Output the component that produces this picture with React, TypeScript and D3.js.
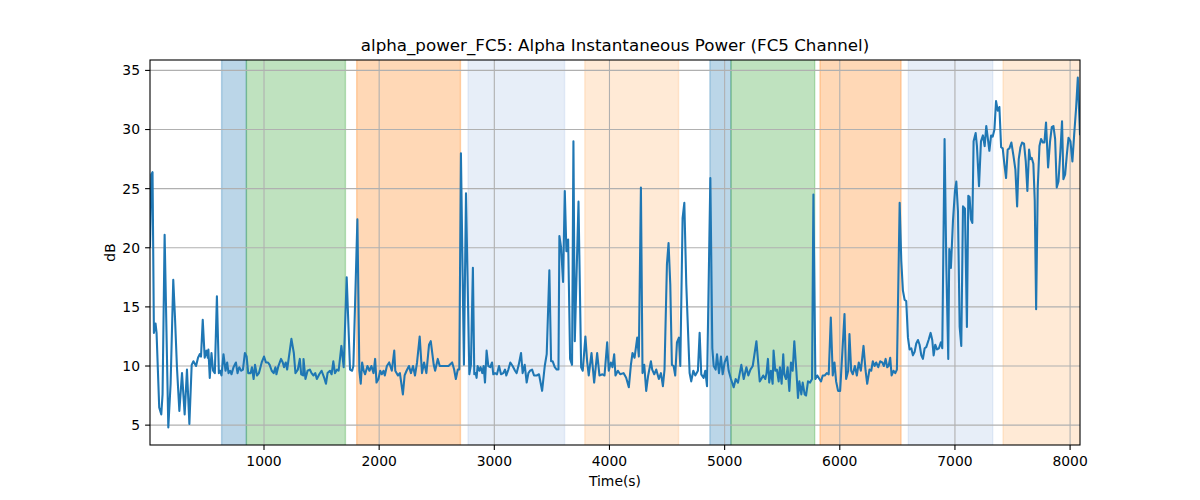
import React from 'react';
import * as d3 from 'd3';

type P = [number, number];

const seg1: P[] = [[10,20.1],[22,26.2],[32,26.4],[44,12.8],[58,13.6],[67,12.8],[90,6.5],[108,5.9],[119,7.6],[137,21.1],[169,4.8],[189,8.5],[212,17.3],[227,14.1],[244,9.9],[265,6.2],[288,9.4],[311,5.9],[331,9.7],[352,5.1],[372,10.1],[387,10.4],[410,10.0],[427,10.7],[442,11.0],[453,10.8],[468,13.9],[485,10.7],[500,11.3],[512,10.7],[517,11.4],[529,9.0],[544,11.1],[558,9.6],[573,9.4],[591,15.9],[608,9.4],[619,9.6],[631,9.2],[648,11.0],[666,9.6],[680,10.3],[692,9.4],[706,9.6],[718,9.3],[735,9.9],[756,10.3],[770,9.4],[785,9.9],[802,9.6],[817,9.7],[834,11.1],[849,10.8],[863,9.4],[884,9.4],[895,9.9],[910,8.9],[922,10.1],[939,9.2],[956,9.4],[980,10.3],[1000,10.8],[1017,10.3],[1035,10.3],[1049,10.1],[1067,9.6],[1084,9.4],[1099,9.9],[1108,9.3],[1125,10.0],[1148,10.6],[1163,10.3],[1174,9.9],[1189,10.3],[1201,9.7],[1238,12.3],[1259,11.1],[1273,9.4],[1294,9.7],[1311,10.6],[1323,9.3],[1340,9.2],[1343,10.6],[1360,8.9],[1378,9.6],[1398,9.7],[1413,9.4],[1430,9.2],[1445,9.4],[1459,8.9],[1480,9.3],[1500,9.6],[1523,9.0],[1538,8.5],[1552,9.4],[1573,9.6],[1587,9.3],[1602,10.4],[1616,9.4],[1634,9.7],[1648,9.6],[1672,11.7],[1692,9.9],[1718,17.5],[1747,9.7],[1765,9.6],[1776,10.0],[1811,22.4],[1828,9.6],[1840,8.5],[1852,10.3],[1866,9.6],[1878,9.3],[1898,10.0],[1916,9.6],[1933,10.0],[1951,9.4],[1965,10.6],[1977,8.6],[1994,8.9],[2009,9.6],[2023,9.3],[2038,9.6],[2049,9.2],[2067,10.0],[2087,10.3],[2110,9.6],[2131,11.3],[2140,9.6],[2163,9.2],[2180,9.4],[2206,7.6],[2221,9.2],[2238,9.6],[2259,10.0],[2276,9.4],[2294,10.0],[2311,9.2],[2329,10.3],[2352,12.5],[2372,9.4],[2390,10.3],[2410,9.4],[2433,11.8],[2448,12.1],[2474,10.1],[2486,9.6],[2509,10.6],[2526,10.0],[2547,10.0],[2576,10.0],[2602,10.0],[2634,10.3],[2651,9.7],[2666,8.9],[2683,9.7]];

const seg2: P[] = [[2696,9.7],[2710,28.0],[2736,10.1],[2754,24.6],[2783,9.3],[2797,10.1],[2814,18.3],[2826,9.3],[2838,9.4],[2846,9.0],[2855,10.0],[2870,9.6],[2881,9.9],[2896,9.4],[2907,10.0],[2919,8.6],[2933,11.3],[2948,10.0],[2965,9.9],[2980,10.3],[2991,9.3],[3006,9.4],[3023,9.3],[3041,10.0],[3058,9.3],[3078,9.4],[3093,9.7],[3104,9.2],[3122,9.7],[3139,10.3],[3159,10.0],[3180,9.6],[3194,9.4],[3212,10.1],[3232,11.1],[3246,9.4],[3264,10.1],[3281,8.6],[3296,9.4],[3310,9.6],[3328,9.7],[3345,9.2],[3368,9.2],[3388,9.3],[3415,7.9],[3438,10.0],[3455,11.0],[3478,18.1],[3493,10.4],[3507,10.4],[3525,9.9],[3542,9.7],[3557,9.7],[3565,21.0],[3580,20.0],[3597,17.1],[3612,24.8],[3626,19.7],[3641,20.7],[3658,10.6],[3675,10.1],[3687,29.0],[3699,12.1],[3731,23.9],[3754,9.9],[3768,9.6],[3791,12.5],[3806,10.4],[3820,9.2],[3844,11.1],[3867,8.6],[3893,11.1],[3913,9.2],[3939,9.3],[3957,9.2],[3980,12.0],[3994,9.6],[4012,10.3],[4026,9.9],[4041,11.0],[4052,9.2],[4073,9.6],[4093,9.3],[4122,9.4],[4145,9.0],[4168,8.2],[4186,10.1],[4200,11.1],[4218,10.7],[4241,12.4],[4255,10.8],[4273,25.1],[4287,9.4],[4302,10.1],[4319,7.9],[4336,9.2],[4360,10.4],[4371,9.7],[4389,9.3],[4406,9.7],[4429,8.9],[4447,9.4],[4464,8.3],[4478,9.7],[4499,18.6],[4513,20.4],[4528,16.9],[4542,10.1],[4557,10.0],[4571,9.2],[4586,12.0],[4603,12.4],[4615,10.0],[4635,22.5],[4650,23.8],[4667,16.9],[4696,9.4],[4710,8.7],[4728,9.6],[4745,9.2],[4768,9.6],[4783,12.8],[4797,9.3],[4818,9.0],[4832,9.6],[4847,8.3],[4876,25.9],[4893,11.5],[4905,10.0],[4922,9.7],[4934,11.0],[4951,9.4],[4968,10.8],[4983,9.3],[5000,10.3],[5021,10.8],[5035,9.6],[5055,8.9],[5079,8.2],[5096,8.9],[5116,8.6],[5145,10.1],[5166,8.9],[5189,9.9],[5206,9.2],[5224,9.7],[5244,10.0],[5276,12.1],[5305,8.7]];

const seg3: P[] = [[5318,8.9],[5335,9.2],[5353,8.9],[5364,9.4],[5376,10.6],[5387,8.6],[5402,9.6],[5417,8.5],[5425,11.3],[5440,9.6],[5454,9.7],[5469,8.7],[5480,9.9],[5495,8.5],[5509,11.0],[5518,9.3],[5533,8.9],[5547,9.9],[5562,7.9],[5576,10.3],[5591,9.6],[5605,12.1],[5623,9.6],[5637,7.3],[5649,8.7],[5666,7.6],[5678,8.6],[5695,7.6],[5707,7.5],[5724,8.7],[5742,8.6],[5759,8.9],[5771,24.5],[5788,8.9],[5805,9.2],[5823,8.9],[5837,8.7],[5852,9.2],[5869,9.2],[5887,9.4],[5904,9.3],[5922,14.1],[5939,9.2],[5954,10.3],[5968,8.7],[5985,7.9],[6003,7.9],[6023,11.3],[6041,14.4],[6055,8.9],[6073,9.6],[6084,12.7],[6099,9.6],[6113,9.3],[6131,10.0],[6148,9.2],[6165,10.3],[6183,9.6],[6206,11.7],[6224,9.6],[6238,8.5],[6258,9.7],[6273,9.6],[6287,10.4],[6302,10.0],[6316,10.3],[6334,9.9],[6351,10.4],[6369,10.3],[6383,10.0],[6398,10.6],[6412,9.9],[6424,10.0],[6438,10.7],[6450,9.2],[6467,9.6],[6482,9.4],[6496,9.7],[6520,23.8]];

const seg4: P[] = [[6534,18.9],[6548,16.4],[6563,15.6],[6577,15.5],[6592,12.4],[6606,11.4],[6621,11.5],[6635,10.9],[6650,11.2],[6664,11.9],[6679,12.2],[6693,11.8],[6708,10.9],[6722,10.6],[6737,11.5],[6751,11.6],[6771,12.2],[6789,12.8],[6803,12.2],[6815,10.9],[6829,11.8],[6844,11.4],[6861,11.5],[6878,12.0],[6890,11.5],[6910,29.2],[6925,18.6],[6942,10.6],[6951,19.9],[6965,18.3],[6983,22.3],[7000,24.8],[7012,25.6],[7026,23.1],[7041,13.3],[7055,11.7],[7070,23.5],[7087,23.3],[7104,13.3],[7116,24.4],[7127,24.3],[7139,22.4],[7151,22.1],[7162,29.0],[7180,29.7],[7191,28.6],[7209,25.2],[7226,29.0],[7243,29.5],[7258,28.6],[7272,30.3]];

const seg5: P[] = [[7299,28.2],[7314,29.5],[7328,29.4],[7343,30.0],[7357,32.4],[7372,31.6],[7386,31.9],[7401,28.5],[7415,28.4],[7429,27.1],[7444,25.9],[7458,28.3],[7473,28.4],[7490,28.9],[7508,27.8],[7525,26.6],[7540,23.5],[7554,27.5],[7569,28.5],[7583,28.9],[7600,28.8],[7615,27.3],[7629,24.8],[7644,28.3],[7655,27.5],[7667,27.6],[7681,27.1],[7693,24.0],[7705,14.8],[7719,25.1],[7734,28.6],[7748,29.2],[7763,28.9],[7777,28.9],[7791,30.6],[7809,26.8],[7826,29.0],[7841,30.2],[7855,30.3],[7870,29.2],[7884,25.1],[7899,25.6],[7916,28.2],[7930,30.7],[7942,25.8],[7957,26.2],[7971,27.8],[7986,29.3],[8003,29.0],[8020,27.3],[8035,29.5],[8052,31.8],[8067,34.4],[8086,29.6]];

const spansDarkBlue: P[] = [[632, 847], [4872, 5055]];
const spansGreen: P[] = [[847, 1707], [5055, 5782]];
const spansOrange: P[] = [[1805, 2706], [5828, 6532]];
const spansLightBlue: P[] = [[2772, 3610], [6595, 7328]];
const spansLightOrange: P[] = [[3786, 4600], [7418, 8100]];

const xTicks = [1000, 2000, 3000, 4000, 5000, 6000, 7000, 8000];
const yTicks = [5, 10, 15, 20, 25, 30, 35];

const titleText = 'alpha_power_FC5: Alpha Instantaneous Power (FC5 Channel)';
const xLabel = 'Time(s)';
const yLabel = 'dB';

export default function App() {
  const W = 1200, H = 500;
  const L = 150, R = 1080, T = 60, B = 445;
  const data: P[] = [...seg1, ...seg2, ...seg3, ...seg4, ...seg5];
  const xExt = d3.extent(data, d => d[0]) as [number, number];
  const yExt = d3.extent(data, d => d[1]) as [number, number];
  const pad = (yExt[1] - yExt[0]) * 0.05;
  const x = d3.scaleLinear().domain(xExt).range([L, R]);
  const y = d3.scaleLinear().domain([yExt[0] - pad, yExt[1] + pad]).range([B, T]);
  const line = d3.line<P>().x(d => x(d[0])).y(d => y(d[1]));

  const spanGroups: { spans: P[]; color: string }[] = [
    { spans: spansDarkBlue, color: '#1f77b4' },
    { spans: spansGreen, color: '#2ca02c' },
    { spans: spansOrange, color: '#ff7f0e' },
    { spans: spansLightBlue, color: '#aec7e8' },
    { spans: spansLightOrange, color: '#ffbb78' },
  ];

  const font = 'DejaVu Sans, sans-serif';

  return (
    <svg width={W} height={H} style={{ position: 'fixed', left: 0, top: 0, background: '#fff' }} fontFamily={font}>
      <defs>
        <clipPath id="plotclip">
          <rect x={L} y={T} width={R - L} height={B - T} />
        </clipPath>
      </defs>
      <rect x={0} y={0} width={W} height={H} fill="#fff" />
      <g clipPath="url(#plotclip)">
        {spanGroups.map((g, gi) =>
          g.spans.map((s, si) => (
            <rect key={`${gi}-${si}`} x={x(s[0])} y={T - 2} width={x(s[1]) - x(s[0])} height={B - T + 4}
              fill={g.color} fillOpacity={0.3} stroke={g.color} strokeOpacity={0.3} strokeWidth={1.4} />
          ))
        )}
        {xTicks.map(t => (
          <line key={'gx' + t} x1={x(t)} x2={x(t)} y1={T} y2={B} stroke="#b0b0b0" strokeWidth={1.1} />
        ))}
        {yTicks.map(t => (
          <line key={'gy' + t} x1={L} x2={R} y1={y(t)} y2={y(t)} stroke="#b0b0b0" strokeWidth={1.1} />
        ))}
        <path d={line(data) || ''} fill="none" stroke="#1f77b4" strokeWidth={2.08} strokeLinejoin="round" strokeLinecap="square" />
      </g>
      <rect x={L} y={T} width={R - L} height={B - T} fill="none" stroke="#000" strokeWidth={1.1} />
      {xTicks.map(t => (
        <g key={'xt' + t}>
          <line x1={x(t)} x2={x(t)} y1={B} y2={B + 4.9} stroke="#000" strokeWidth={1.1} />
          <text x={x(t)} y={B + 20.5} textAnchor="middle" fontSize={13.9} fill="#000">{t}</text>
        </g>
      ))}
      {yTicks.map(t => (
        <g key={'yt' + t}>
          <line x1={L - 4.9} x2={L} y1={y(t)} y2={y(t)} stroke="#000" strokeWidth={1.1} />
          <text x={L - 10} y={y(t)} dy="0.35em" textAnchor="end" fontSize={13.9} fill="#000">{t}</text>
        </g>
      ))}
      <text x={(L + R) / 2} y={51} textAnchor="middle" fontSize={16.7} fill="#000">{titleText}</text>
      <text x={(L + R) / 2} y={486} textAnchor="middle" fontSize={13.9} fill="#000">{xLabel}</text>
      <text transform={`translate(115, ${(T + B) / 2}) rotate(-90)`} textAnchor="middle" fontSize={13.9} fill="#000">{yLabel}</text>
    </svg>
  );
}
